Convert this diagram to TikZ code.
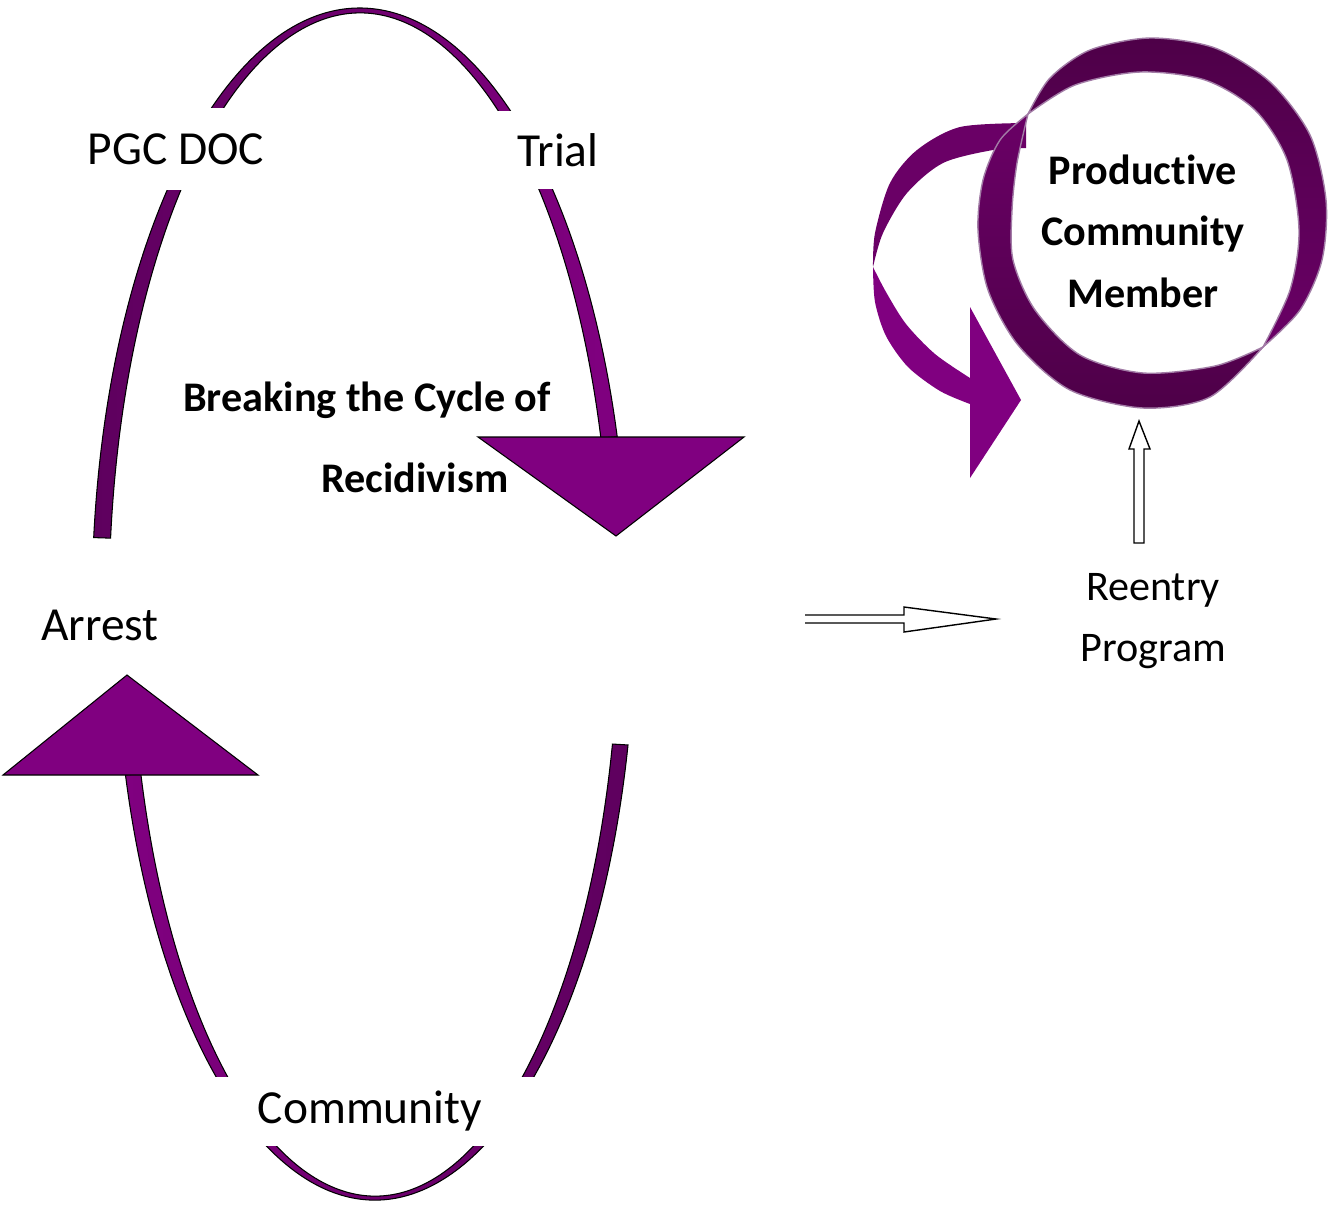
\documentclass[tikz,border=0pt]{standalone}
\usepackage{fontspec}
\setmainfont{Carlito}[Ligatures=NoCommon]
\usetikzlibrary{calc}

\definecolor{cyclepurple}{HTML}{800080}
\definecolor{darkpurple}{HTML}{5E005E}
\definecolor{ringdark}{HTML}{4E0048}
\definecolor{ringmid}{HTML}{6A0066}
\definecolor{ringedge}{HTML}{A27CA6}

\tikzset{
  band/.style={draw=black,line width=0.6pt},
  headfill/.style={draw=black,line width=0.6pt,fill=cyclepurple},
  lbl/.style={font=\fontsize{27}{32}\selectfont,inner sep=4pt},
  mask/.style={lbl,fill=white},
  boldlbl/.style={font=\fontsize{24}{35}\selectfont\bfseries},
  sublbl/.style={font=\fontsize{24}{35}\selectfont},
  hollow/.style={draw=black,line width=0.8pt,fill=white},
  ribbon/.style={draw=ringedge,line width=0.8pt}
}

\begin{document}
\begin{tikzpicture}[x=0.02cm,y=-0.02cm]
\useasboundingbox (0,0) rectangle (1335,1205);

%upper half of the cycle
\coordinate (topc) at (360,604);
\draw[band,left color=darkpurple,right color=cyclepurple]
  ($(topc)+(186.4:268 and 596)$) arc[start angle=186.4,end angle=343.7,x radius=268,y radius=596]
  -- ($(topc)+(343.7:251 and 591)$) arc[start angle=343.7,end angle=186.4,x radius=251,y radius=591] -- cycle;
\draw[headfill] (478,437) -- (744,437) -- (616,536) -- cycle;

%lower half of the cycle
\coordinate (botc) at (375,609);
\draw[band,left color=cyclepurple,right color=darkpurple]
  ($(botc)+(163.7:260 and 591)$) arc[start angle=163.7,end angle=13.3,x radius=260,y radius=591]
  -- ($(botc)+(13.3:244 and 587)$) arc[start angle=13.3,end angle=163.7,x radius=244,y radius=587] -- cycle;
\draw[headfill] (3,775) -- (258,775) -- (127,675) -- cycle;

%labels on the cycle
\node[mask,minimum height=1.64cm] (pgc) at (176,149) {PGC DOC};
\node[mask,minimum width=2.8cm,minimum height=1.56cm] (trial) at (558,150) {Trial};
\node[mask,minimum width=7cm,minimum height=1.38cm] (comm) at (370,1111) {Community};
\node[lbl] (arrest) at (100,625) {Arrest};
\node[boldlbl] (brk1) at (367,400) {Breaking the Cycle of};
\node[boldlbl] (brk2) at (415,478) {Recidivism};

%curved arrow into the ring
\fill[ringmid]
  plot[smooth] coordinates {(1026,123) (960,127) (917,150) (890,183) (875,233) (873,267)}
  -- plot[smooth] coordinates {(873,267) (883,233) (907,193) (943,163) (993,150) (1026,148)}
  -- cycle;
\fill[cyclepurple]
  plot[smooth] coordinates {(873,267) (875,302) (886,336) (908,367) (940,391) (970,404)}
  -- (970,478) -- (1021,400) -- (970,307) -- (970,378)
  -- plot[smooth] coordinates {(970,378) (935,354) (906,324) (886,292) (873,267)}
  -- cycle;

%ring
\draw[ribbon,top color=ringmid,bottom color=ringdark]
  plot[smooth] coordinates {(1028,114) (1000,140) (983,180) (978,230) (988,290) (1018,345) (1070,390) (1143,408) (1210,397) (1263,347)}
  -- plot[smooth] coordinates {(1263,347) (1215,366) (1143,373) (1080,355) (1035,310) (1013,260) (1012,210) (1017,163) (1028,114)}
  -- cycle;
\draw[ribbon,top color=ringdark,bottom color=ringmid]
  plot[smooth] coordinates {(1263,347) (1300,310) (1322,260) (1326,200) (1310,135) (1270,82) (1215,48) (1150,38) (1090,50) (1050,78) (1028,114)}
  -- plot[smooth] coordinates {(1028,114) (1075,85) (1140,72) (1205,80) (1255,110) (1287,160) (1299,230) (1290,290) (1263,347)}
  -- cycle;

\node[boldlbl,align=center] (pcm) at (1143,231) {Productive\\Community\\Member};
\node[sublbl,align=center] (reentry) at (1153,621) {Reentry\\Program};

%hollow arrows
\coordinate (cyclout) at (805,619);
\coordinate (reentryin) at (996,619);
\draw[hollow] ($(cyclout)+(0,-4)$) -- ($(reentryin)+(-92,-4)$) -- ($(reentryin)+(-92,-12)$) -- (reentryin)
  -- ($(reentryin)+(-92,13)$) -- ($(reentryin)+(-92,4)$) -- ($(cyclout)+(0,4)$);

\coordinate (reentryout) at (1139,543);
\coordinate (pcmin) at (1139,421);
\draw[hollow] ($(reentryout)+(-5,0)$) -- ($(pcmin)+(-5,28)$) -- ($(pcmin)+(-10,28)$) -- (pcmin)
  -- ($(pcmin)+(11,28)$) -- ($(pcmin)+(5,28)$) -- ($(reentryout)+(5,0)$) -- cycle;

\end{tikzpicture}
\end{document}
